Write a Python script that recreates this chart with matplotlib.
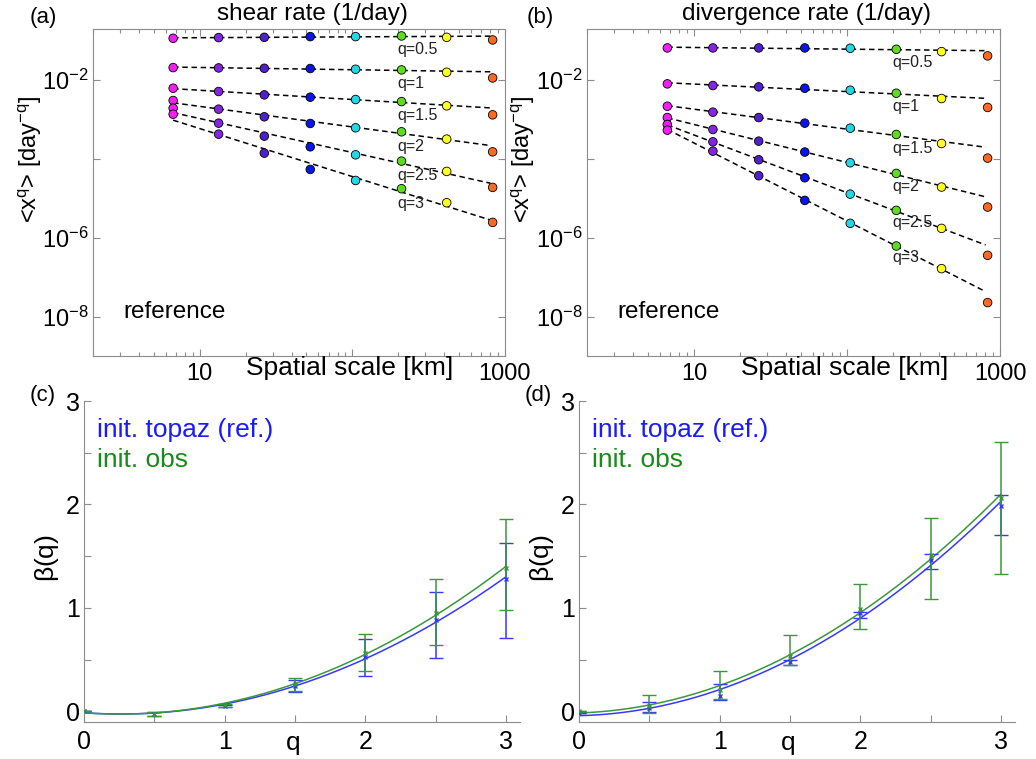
import numpy as np
import matplotlib
matplotlib.use("Agg")
import matplotlib.pyplot as plt
from matplotlib.ticker import FixedLocator, NullLocator, LogLocator, NullFormatter

plt.rcParams["font.family"] = ["Liberation Sans", "DejaVu Sans"]
plt.rcParams["mathtext.fontset"] = "custom"
plt.rcParams["mathtext.rm"] = "Liberation Sans"
plt.rcParams["mathtext.it"] = "Liberation Sans:italic"
plt.rcParams["mathtext.default"] = "regular"

# ---------------- data ----------------
scales_km = [6.7, 13.3, 26.5, 53, 105, 210, 415, 830]
q_orders = [0.5, 1, 1.5, 2, 2.5, 3]
scale_colors = ["#f020f0", "#8424e4", "#5020d0", "#0a14ee",
                "#22d8e6", "#5edc1e", "#ffff22", "#ff6a22"]

# structure-function moments <x^q> of the shear rate, one row per q
shear_moments = [
    [1.135e-1, 1.18e-1, 1.20e-1, 1.25e-1, 1.25e-1, 1.30e-1, 1.20e-1, 1.03e-1],
    [2.05e-2, 2.01e-2, 1.97e-2, 1.94e-2, 1.86e-2, 1.79e-2, 1.56e-2, 1.12e-2],
    [6.15e-3, 5.07e-3, 4.17e-3, 3.64e-3, 3.18e-3, 2.82e-3, 2.20e-3, 1.30e-3],
    [3.00e-3, 1.81e-3, 1.16e-3, 7.85e-4, 6.10e-4, 4.83e-4, 3.15e-4, 1.50e-4],
    [1.92e-3, 8.00e-4, 3.75e-4, 2.01e-4, 1.26e-4, 8.73e-5, 4.78e-5, 1.88e-5],
    [1.35e-3, 4.21e-4, 1.39e-4, 5.37e-5, 2.82e-5, 1.74e-5, 7.69e-6, 2.44e-6],
]
# structure-function moments <x^q> of the divergence rate
div_moments = [
    [6.46e-2, 6.46e-2, 6.46e-2, 6.46e-2, 6.34e-2, 5.97e-2, 5.21e-2, 4.06e-2],
    [7.93e-3, 7.19e-3, 6.65e-3, 6.15e-3, 5.47e-3, 4.59e-3, 3.37e-3, 2.00e-3],
    [2.15e-3, 1.52e-3, 1.11e-3, 8.00e-4, 5.97e-4, 4.13e-4, 2.44e-4, 1.04e-4],
    [1.11e-3, 5.53e-4, 2.80e-4, 1.48e-4, 7.93e-5, 4.26e-5, 1.92e-5, 5.97e-6],
    [7.40e-4, 2.69e-4, 9.44e-5, 3.30e-5, 1.27e-5, 4.92e-6, 1.72e-6, 3.57e-7],
    [5.32e-4, 1.56e-4, 3.72e-5, 8.81e-6, 2.31e-6, 6.15e-7, 1.64e-7, 2.26e-8],
]

# scaling exponents beta(q) with their confidence ranges
q_vals = [0, 0.5, 1, 1.5, 2, 2.5, 3]
shear_beta_topaz = [0.0, -0.026, 0.052, 0.242, 0.523, 0.881, 1.282]
shear_topaz_hi = [0.0, -0.006, 0.064, 0.300, 0.703, 1.149, 1.630]
shear_topaz_lo = [0.0, -0.045, 0.040, 0.188, 0.339, 0.513, 0.713]
shear_beta_obs = [0.0, -0.026, 0.060, 0.268, 0.565, 0.946, 1.385]
shear_obs_hi = [0.0, -0.008, 0.072, 0.320, 0.749, 1.275, 1.856]
shear_obs_lo = [0.0, -0.046, 0.046, 0.200, 0.387, 0.646, 0.975]

div_beta_topaz = [-0.02, 0.033, 0.152, 0.478, 0.952, 1.459, 1.985]
div_topaz_hi = [-0.02, 0.087, 0.265, 0.500, 0.959, 1.517, 2.090]
div_topaz_lo = [-0.02, -0.010, 0.113, 0.452, 0.904, 1.372, 1.707]
div_beta_obs = [0.005, 0.055, 0.210, 0.532, 0.991, 1.507, 2.066]
div_obs_hi = [0.005, 0.160, 0.394, 0.736, 1.233, 1.865, 2.608]
div_obs_lo = [0.005, -0.016, 0.120, 0.452, 0.797, 1.088, 1.330]

# ---------------- figure ----------------
W, H = 1036, 759
fig = plt.figure(figsize=(W / 100, H / 100), dpi=100)
GRAY = "#8c8c8c"
TICK_FS = 17


def px_axes(left, top, right, bottom):
    return fig.add_axes([left / W, 1 - bottom / H, (right - left) / W, (bottom - top) / H])


def moments_panel(ax, moments, title):
    x = np.array(scales_km)
    for q, row in zip(q_orders, moments):
        y = np.array(row)
        # power-law fit on the first seven scales
        slope, icpt = np.polyfit(np.log10(x[:7]), np.log10(y[:7]), 1)
        xs = np.array([x[0], x[-1] * 0.97])
        ax.plot(xs, 10 ** (icpt + slope * np.log10(xs)), color="black",
                lw=1.1, dashes=(3.6, 2.4), zorder=2)
        ax.scatter(x, y, s=38, c=scale_colors, edgecolors="black",
                   linewidths=0.6, zorder=3)
        xl = 197.0
        ax.annotate(f"q={q:g}", xy=(xl, 10 ** (icpt + slope * np.log10(xl))),
                    xytext=(0, -9.5), textcoords="offset points",
                    ha="left", va="center", fontsize=11.5, color="#222222")
    ax.set_xscale("log")
    ax.set_yscale("log")
    ax.set_xlim(2, 1000)
    ax.set_ylim(1e-9, 10 ** -0.71)
    ax.xaxis.set_major_locator(FixedLocator([10, 100, 1000]))
    ax.set_xticklabels(["10", "", "1000"])
    ax.xaxis.set_minor_locator(LogLocator(base=10, subs=np.arange(2, 10)))
    ax.xaxis.set_minor_formatter(NullFormatter())
    ax.yaxis.set_major_locator(FixedLocator([1e-8, 1e-6, 1e-4, 1e-2]))
    ax.set_yticklabels(["$10^{-8}$", "$10^{-6}$", "", "$10^{-2}$"])
    ax.yaxis.set_minor_locator(NullLocator())
    for s in ax.spines.values():
        s.set_color(GRAY)
        s.set_linewidth(0.8)
    ax.tick_params(which="both", direction="in", top=True, right=True,
                   color=GRAY, labelsize=TICK_FS, width=0.8)
    ax.tick_params(which="major", length=5, pad=5)
    ax.tick_params(which="minor", length=3)
    ax.tick_params(axis="y", pad=3)
    ax.set_ylabel("<x$^{q}$> [day$^{-q}$]", fontsize=17)
    ax.yaxis.set_label_coords(-0.12, 0.6)
    ax.text(0.624, -0.037, "Spatial scale [km]", transform=ax.transAxes,
            ha="center", va="center", fontsize=19)
    ax.text(0.532, 1.045, title, transform=ax.transAxes, ha="center",
            va="center", fontsize=17.5)
    ax.text(0.074, 0.134, "reference", transform=ax.transAxes, ha="left",
            va="center", fontsize=17.5)


def beta_panel(ax, b1, lo1, hi1, b2, lo2, hi2):
    q = np.array(q_vals)
    qq = np.linspace(0, 3, 200)
    for b, lo, hi, col in ((b1, lo1, hi1, "#3838ff"), (b2, lo2, hi2, "#3a983a")):
        b, lo, hi = np.array(b), np.array(lo), np.array(hi)
        coef = np.polyfit(q, b, 2)
        ax.plot(qq, np.polyval(coef, qq), color=col, lw=1.1, zorder=2)
        ax.errorbar(q, b, yerr=[b - lo, hi - b], fmt="x", color=col, ms=3,
                    mew=1, ecolor=col, elinewidth=1.1, capsize=5,
                    capthick=1.1, zorder=3)
    ax.set_xlim(0, 3.1)
    ax.set_ylim(-0.1, 3)
    ax.set_xticks(np.arange(0, 3.01, 0.5))
    ax.set_xticklabels(["0", "", "1", "", "2", "", "3"])
    ax.set_yticks(np.arange(0, 3.01, 0.5))
    ax.set_yticklabels(["0", "", "1", "", "2", "", "3"])
    for side in ("top", "right"):
        ax.spines[side].set_visible(False)
    for side in ("left", "bottom"):
        ax.spines[side].set_color(GRAY)
        ax.spines[side].set_linewidth(0.8)
    ax.tick_params(direction="in", length=5, width=0.8, color=GRAY,
                   labelsize=18, pad=3)
    ax.tick_params(axis="x", pad=6)
    ax.set_ylabel(r"$\beta$(q)", fontsize=19)
    ax.yaxis.set_label_coords(-0.052, 0.51)
    ax.text(0.48, -0.066, "q", transform=ax.transAxes, ha="center",
            va="center", fontsize=19)
    ax.text(0.03, 0.91, "init. topaz (ref.)", transform=ax.transAxes,
            color="#1a1aff", fontsize=19, ha="left", va="center")
    ax.text(0.03, 0.816, "init. obs", transform=ax.transAxes,
            color="#1a8a1a", fontsize=19, ha="left", va="center")


ax_a = px_axes(93, 29, 505, 356)
ax_b = px_axes(587, 29, 1000, 356)
ax_c = px_axes(84, 401, 520, 721.7)
ax_d = px_axes(579, 401, 1015, 721.7)

moments_panel(ax_a, shear_moments, "shear rate (1/day)")
moments_panel(ax_b, div_moments, "divergence rate (1/day)")
beta_panel(ax_c, shear_beta_topaz, shear_topaz_lo, shear_topaz_hi,
           shear_beta_obs, shear_obs_lo, shear_obs_hi)
beta_panel(ax_d, div_beta_topaz, div_topaz_lo, div_topaz_hi,
           div_beta_obs, div_obs_lo, div_obs_hi)

for lbl, xp, yp in (("(a)", 30, 17), ("(b)", 527, 17), ("(c)", 30, 395), ("(d)", 525, 395)):
    fig.text(xp / W, 1 - yp / H, lbl, fontsize=16, ha="left", va="center")

fig.savefig("out.png", dpi=100)
